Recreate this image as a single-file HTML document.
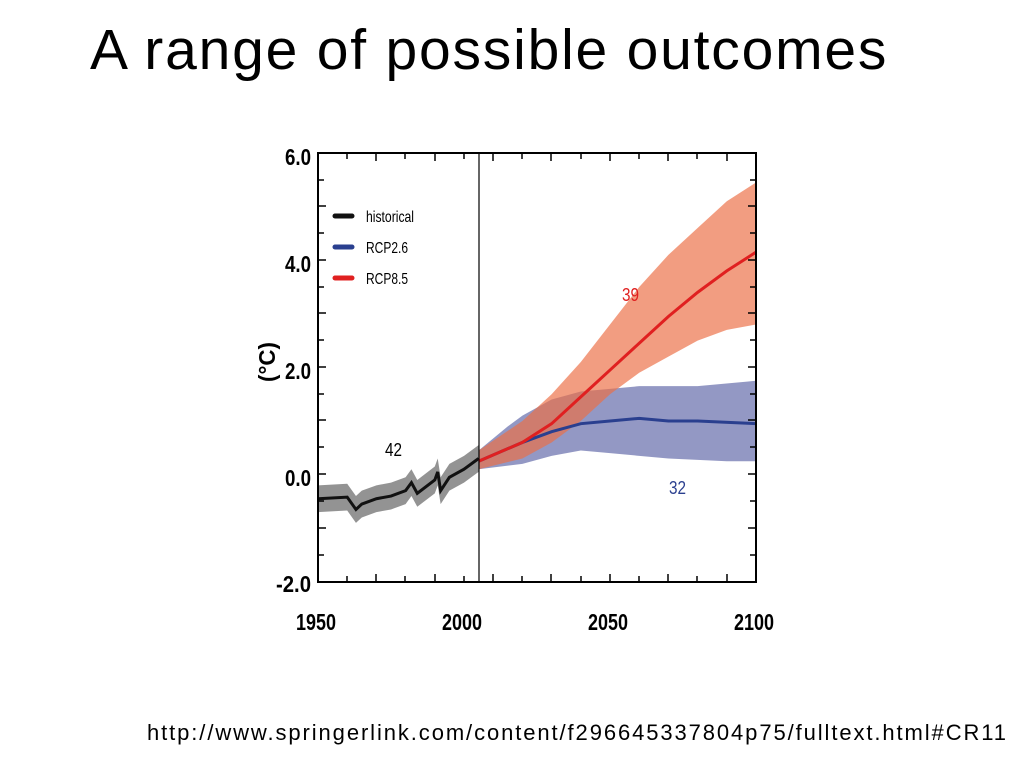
<!DOCTYPE html>
<html><head><meta charset="utf-8"><style>
body{margin:0;width:1024px;height:760px;background:#fff;overflow:hidden;position:relative;font-family:"Liberation Sans",sans-serif}
.t{position:absolute;left:90px;top:17px;font-size:57px;letter-spacing:1.8px;color:#000}
.u{position:absolute;left:147px;top:720px;font-size:22px;letter-spacing:1.9px;color:#000}
</style></head><body>
<div class="t">A range of possible outcomes</div>
<svg width="1024" height="760" style="position:absolute;left:0;top:0">
<g transform="translate(318,474.6) scale(2.92,-53.6)">
<polygon fill="rgba(80,88,160,0.62)" points="55,0.45 65,0.9 70,1.1 80,1.4 90,1.55 110,1.65 130,1.65 150,1.75 150,0.25 140,0.25 120,0.3 100,0.4 90,0.45 80,0.35 70,0.2 55,0.1"/>
<polygon fill="rgba(236,110,70,0.68)" points="55,0.45 70,1.0 80,1.5 90,2.1 100,2.8 110,3.5 120,4.1 130,4.6 140,5.1 150,5.45 150,2.8 140,2.7 130,2.5 120,2.2 110,1.9 100,1.5 90,1.0 80,0.6 70,0.3 55,0.1"/>
<polygon fill="rgba(120,120,120,0.8)" points="0,-0.2 10,-0.17 13,-0.4 15,-0.3 20,-0.2 25,-0.15 30,-0.05 32,0.1 34,-0.1 40,0.15 41,0.3 42,-0.05 45,0.2 50,0.35 55,0.55 55,0.05 50,-0.15 45,-0.3 42,-0.55 41,-0.2 40,-0.35 34,-0.6 32,-0.4 30,-0.55 25,-0.65 20,-0.7 15,-0.8 13,-0.9 10,-0.67 0,-0.7"/>
<polyline fill="none" stroke="#111" stroke-width="3" vector-effect="non-scaling-stroke" points="0,-0.45 10,-0.42 13,-0.65 15,-0.55 20,-0.45 25,-0.4 30,-0.3 32,-0.15 34,-0.35 40,-0.1 41,0.05 42,-0.3 45,-0.05 50,0.1 55,0.3"/>
<polyline fill="none" stroke="#2a3f8f" stroke-width="3" vector-effect="non-scaling-stroke" points="55,0.25 70,0.6 80,0.8 90,0.95 100,1.0 110,1.05 120,1.0 130,1.0 150,0.95"/>
<polyline fill="none" stroke="#e02020" stroke-width="3" vector-effect="non-scaling-stroke" points="55,0.25 70,0.6 80,0.95 90,1.45 100,1.95 110,2.45 120,2.95 130,3.4 140,3.8 150,4.15"/>
</g>
<line x1="479" y1="153" x2="479" y2="582" stroke="#000" stroke-width="1.2"/>
<rect x="318" y="153" width="438" height="429" fill="none" stroke="#000" stroke-width="2"/>
<g stroke="#000" stroke-width="1.5">
<path d="M318,180h6M318,206h8M318,233h6M318,260h8M318,287h6M318,313h8M318,340h6M318,367h8M318,394h6M318,420h8M318,447h6M318,474h8M318,501h6M318,528h8M318,555h6"/>
<path d="M756,180h-6M756,206h-8M756,233h-6M756,260h-8M756,287h-6M756,313h-8M756,340h-6M756,367h-8M756,394h-6M756,420h-8M756,447h-6M756,474h-8M756,501h-6M756,528h-8M756,555h-6"/>
<path d="M347,582v-6M376,582v-8M405,582v-6M435,582v-8M464,582v-6M493,582v-8M522,582v-6M551,582v-8M581,582v-6M610,582v-8M639,582v-6M668,582v-8M697,582v-6M727,582v-8"/>
<path d="M347,153v6M376,153v8M405,153v6M435,153v8M464,153v6M493,153v8M522,153v6M551,153v8M581,153v6M610,153v8M639,153v6M668,153v8M697,153v6M727,153v8"/>
</g>
<g font-family="'Liberation Sans Narrow','Liberation Sans',sans-serif" font-size="23" font-weight="bold" fill="#000">
<text x="285" y="165" textLength="26" lengthAdjust="spacingAndGlyphs">6.0</text>
<text x="285" y="272" textLength="26" lengthAdjust="spacingAndGlyphs">4.0</text>
<text x="285" y="379" textLength="26" lengthAdjust="spacingAndGlyphs">2.0</text>
<text x="285" y="486" textLength="26" lengthAdjust="spacingAndGlyphs">0.0</text>
<text x="276" y="592" textLength="35" lengthAdjust="spacingAndGlyphs">-2.0</text>
<text x="296" y="630" textLength="40" lengthAdjust="spacingAndGlyphs">1950</text>
<text x="442" y="630" textLength="40" lengthAdjust="spacingAndGlyphs">2000</text>
<text x="588" y="630" textLength="40" lengthAdjust="spacingAndGlyphs">2050</text>
<text x="734" y="630" textLength="40" lengthAdjust="spacingAndGlyphs">2100</text>
<text transform="translate(275,382) rotate(-90)" textLength="40" lengthAdjust="spacingAndGlyphs">(°C)</text>
</g>
<g font-family="'Liberation Sans Narrow','Liberation Sans',sans-serif" font-size="18">
<text x="385" y="456" textLength="17" lengthAdjust="spacingAndGlyphs">42</text>
<text x="622" y="301" fill="#e02020" textLength="17" lengthAdjust="spacingAndGlyphs">39</text>
<text x="669" y="494" fill="#2a3f8f" textLength="17" lengthAdjust="spacingAndGlyphs">32</text>
</g>
<g stroke-width="5" stroke-linecap="round">
<line x1="335" y1="216" x2="352" y2="216" stroke="#111"/>
<line x1="335" y1="247" x2="352" y2="247" stroke="#2a3f8f"/>
<line x1="335" y1="278" x2="352" y2="278" stroke="#e02020"/>
</g>
<g font-family="'Liberation Sans Narrow','Liberation Sans',sans-serif" font-size="16" fill="#000">
<text x="366" y="222" textLength="48" lengthAdjust="spacingAndGlyphs">historical</text>
<text x="366" y="253" textLength="42" lengthAdjust="spacingAndGlyphs">RCP2.6</text>
<text x="366" y="284" textLength="42" lengthAdjust="spacingAndGlyphs">RCP8.5</text>
</g>
</svg>
<div class="u">http://www.springerlink.com/content/f296645337804p75/fulltext.html#CR11</div>
</body></html>
